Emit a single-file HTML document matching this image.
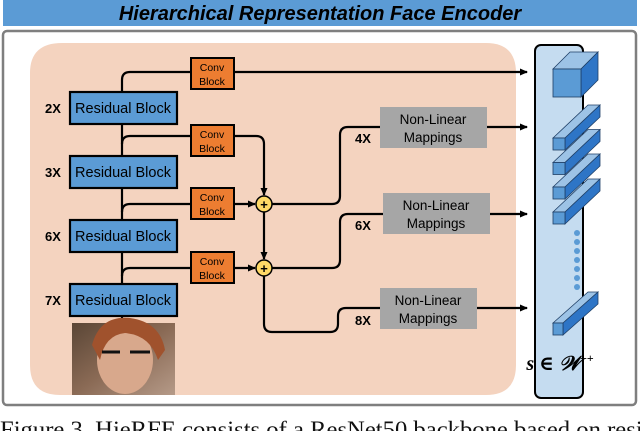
<!DOCTYPE html>
<html><head><meta charset="utf-8"><style>
html,body{margin:0;padding:0;background:#fff;width:640px;height:431px;overflow:hidden}
svg{display:block}
text{font-family:"Liberation Sans",sans-serif}
</style></head><body>
<svg width="640" height="431" viewBox="0 0 640 431" xmlns="http://www.w3.org/2000/svg">
<defs>
<marker id="ar" markerWidth="8" markerHeight="8" refX="7" refY="4" orient="auto" markerUnits="userSpaceOnUse"><path d="M0,0.5 L8,4 L0,7.5z" fill="#000"/></marker>
<linearGradient id="face" x1="0" y1="0" x2="1" y2="1"><stop offset="0" stop-color="#5a4636"/><stop offset="0.5" stop-color="#8a6a55"/><stop offset="1" stop-color="#b59a88"/></linearGradient>
</defs>
<rect x="3" y="0" width="634" height="26" fill="#5b9bd5"/>
<text x="320" y="20" text-anchor="middle" font-size="20" font-weight="bold" font-style="italic" fill="#000">Hierarchical Representation Face Encoder</text>
<rect x="3" y="31" width="633" height="374" rx="4" fill="#fff" stroke="#7f7f7f" stroke-width="2.5"/>
<path d="M62,43 H486 Q516,43 516,73 V365 Q516,395 486,395 H60 Q30,395 30,365 V73 Q30,43 62,43z" fill="#f4d3bf"/>
<g stroke="#000" stroke-width="2.2" fill="none">
<path d="M122,325 V80 Q122,72 130,72 H527" marker-end="url(#ar)"/>
<path d="M122,144 Q122,136 130,136 H256 Q264,136 264,144 V195" marker-end="url(#ar)"/>
<path d="M122,212 Q122,204 130,204 H255" marker-end="url(#ar)"/>
<path d="M122,276 Q122,268 130,268 H255" marker-end="url(#ar)"/>
<path d="M264,212 V259" marker-end="url(#ar)"/>
<path d="M272,204 H332 Q340,204 340,196 V135 Q340,127 348,127 H527" marker-end="url(#ar)"/>
<path d="M272,268 H332 Q340,268 340,260 V222 Q340,214 348,214 H527" marker-end="url(#ar)"/>
<path d="M264,276 V324 Q264,332 272,332 H330 Q338,332 338,324 V316 Q338,308 346,308 H527" marker-end="url(#ar)"/>
</g>
<g stroke="#000" stroke-width="2.2" fill="#5b9bd5">
<rect x="70" y="92" width="107" height="32"/><rect x="70" y="156" width="107" height="32"/>
<rect x="70" y="220" width="107" height="32"/><rect x="70" y="284" width="107" height="32"/>
</g>
<g font-size="14.5" fill="#000" text-anchor="middle">
<text x="123" y="113">Residual Block</text><text x="123" y="177">Residual Block</text>
<text x="123" y="241">Residual Block</text><text x="123" y="305">Residual Block</text>
</g>
<g font-size="13" font-weight="bold" fill="#000">
<text x="45" y="113">2X</text><text x="45" y="177">3X</text><text x="45" y="241">6X</text><text x="45" y="305">7X</text>
<text x="355" y="143">4X</text><text x="355" y="230">6X</text><text x="355" y="325">8X</text>
</g>
<g stroke="#000" stroke-width="2" fill="#ed7d31">
<rect x="191" y="58" width="43" height="31"/><rect x="191" y="125" width="43" height="31"/>
<rect x="191" y="188" width="43" height="31"/><rect x="191" y="252" width="43" height="31"/>
</g>
<g font-size="10.5" fill="#000" text-anchor="middle">
<text x="212" y="71">Conv</text><text x="212" y="85">Block</text>
<text x="212" y="138">Conv</text><text x="212" y="152">Block</text>
<text x="212" y="201">Conv</text><text x="212" y="215">Block</text>
<text x="212" y="265">Conv</text><text x="212" y="279">Block</text>
</g>
<g stroke="#000" stroke-width="1.5" fill="#ffd966">
<circle cx="264" cy="204" r="8"/><circle cx="264" cy="268" r="8"/>
</g>
<g font-size="13" font-weight="bold" text-anchor="middle"><text x="264" y="209">+</text><text x="264" y="273">+</text></g>
<g fill="#a6a6a6"><rect x="380" y="107" width="107" height="41"/><rect x="383" y="193" width="107" height="41"/><rect x="380" y="288" width="97" height="41"/></g>
<g font-size="13.5" fill="#000" text-anchor="middle">
<text x="433" y="124">Non-Linear</text><text x="433" y="142">Mappings</text>
<text x="436" y="210">Non-Linear</text><text x="436" y="228">Mappings</text>
<text x="428" y="305">Non-Linear</text><text x="428" y="323">Mappings</text>
</g>
<rect x="72" y="323" width="103" height="72" fill="url(#face)"/>
<ellipse cx="125" cy="360" rx="28" ry="34" fill="#d8a88c"/>
<path d="M92,345 Q100,315 130,318 Q160,322 165,350 L158,360 Q150,335 125,333 Q105,335 100,360z" fill="#a0522d"/>
<path d="M102,352 h18 M130,352 h20" stroke="#111" stroke-width="3"/>
<rect x="535" y="45" width="48" height="353" rx="6" fill="#c5dcf0" stroke="#000" stroke-width="2"/>
<g stroke="#1f3f66" stroke-width="0.8">
<path d="M553,69 L570,52 H598 L581,69z" fill="#9dc3e6"/><path d="M581,69 L598,52 V80 L581,97z" fill="#2e75c6"/><rect x="553" y="69" width="28" height="28" fill="#5b9bd5"/>
<g id="b"><path d="M553,138 L588,105 H600 L565,138z" fill="#9dc3e6"/><path d="M565,138 L600,105 V117 L565,150z" fill="#2e75c6"/><rect x="553" y="138" width="12" height="12" fill="#5b9bd5"/></g>
<use href="#b" y="24.5"/><use href="#b" y="49"/><use href="#b" y="74"/>
<path d="M553,323 L588,292 H598 L563,323z" fill="#9dc3e6"/><path d="M563,323 L598,292 V304 L563,335z" fill="#2e75c6"/><rect x="553" y="323" width="10" height="12" fill="#5b9bd5"/>
</g>
<g fill="#5b9bd5"><circle cx="577" cy="233" r="3"/><circle cx="577" cy="242" r="3"/><circle cx="577" cy="251" r="3"/><circle cx="577" cy="260" r="3"/><circle cx="577" cy="269" r="3"/><circle cx="577" cy="278" r="3"/><circle cx="577" cy="287" r="3"/></g>
<text x="560" y="370" text-anchor="middle" style="font-family:'Liberation Serif','DejaVu Serif',serif;font-size:20px;font-style:italic;font-weight:bold">s ∈ 𝒲<tspan style="font-size:12px" dy="-8">++</tspan></text>
<text x="0" y="437" textLength="655" lengthAdjust="spacingAndGlyphs" style="font-family:'Liberation Serif',serif;font-size:23px" fill="#111">Figure 3. HieRFE consists of a ResNet50 backbone based on resid</text>
</svg>
</body></html>
